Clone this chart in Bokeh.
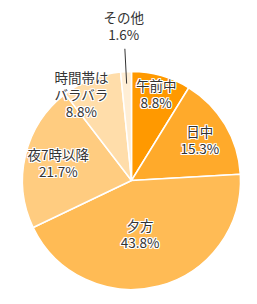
import math
from bokeh.plotting import figure
from bokeh.models import Range1d, ColumnDataSource
from bokeh.core.properties import value
from bokeh.embed import file_html
from bokeh.resources import INLINE

categories = ["午前中", "日中", "夕方", "夜7時以降", "時間帯は\nバラバラ", "その他"]
percents = [8.8, 15.3, 43.8, 21.7, 8.8, 1.6]
colors = ["#FF9900", "#FFAA2B", "#FFBB55", "#FFCC80", "#FFDDAA", "#FFEED5"]
label_r = [0.83, 0.73, 0.50, 0.69, 0.85, 1.42]
label_dx = [0, 0, -5, 0, -16, 0]

W, H = 257, 304
R = 109
p = figure(width=W, height=H, output_backend="svg", toolbar_location=None,
           x_range=Range1d(-131, W - 131), y_range=Range1d(180 - H, 180),
           min_border=0)
p.axis.visible = False
p.grid.visible = False
p.outline_line_color = None
p.background_fill_color = "white"

total = sum(percents)
starts, ends, lx, ly, texts = [], [], [], [], []
cum = 0.0
for cat, pc, lr, dx in zip(categories, percents, label_r, label_dx):
    a0 = cum / total * 2 * math.pi
    cum += pc
    a1 = cum / total * 2 * math.pi
    starts.append(math.pi / 2 - a0)
    ends.append(math.pi / 2 - a1)
    mid = (a0 + a1) / 2
    lx.append(lr * R * math.sin(mid) + dx)
    ly.append(lr * R * math.cos(mid))
    texts.append(f"{cat}\n{pc:.1f}%")

src = ColumnDataSource(dict(start=starts, end=ends, color=colors))
p.wedge(x=0, y=0, radius=R, start_angle="start", end_angle="end",
        direction="clock", fill_color="color", line_color="white",
        line_width=1.5, source=src)

# leader line for the small slice
last_mid = (sum(percents[:-1]) + percents[-1] / 2) / total * 2 * math.pi
p.line(x=[0.89 * R * math.sin(last_mid), 1.21 * R * math.sin(last_mid)],
       y=[0.89 * R * math.cos(last_mid), 1.21 * R * math.cos(last_mid)],
       line_color="#333333", line_width=1)

lsrc = ColumnDataSource(dict(x=lx, y=ly, text=texts))
font = value("Noto Sans CJK JP")
for ox in (-1, 0, 1):
    for oy in (-1, 0, 1):
        if ox == 0 and oy == 0:
            continue
        p.text(x="x", y="y", text="text", source=lsrc, text_font=font,
               text_font_size="13.5px", text_align="center",
               text_baseline="middle", text_color="white",
               text_line_height=0.85, x_offset=ox, y_offset=oy)
p.text(x="x", y="y", text="text", source=lsrc, text_font=font,
       text_font_size="13.5px", text_align="center", text_baseline="middle",
       text_color="#333333", text_line_height=0.85)

open("out.html", "w").write(file_html(p, INLINE))
